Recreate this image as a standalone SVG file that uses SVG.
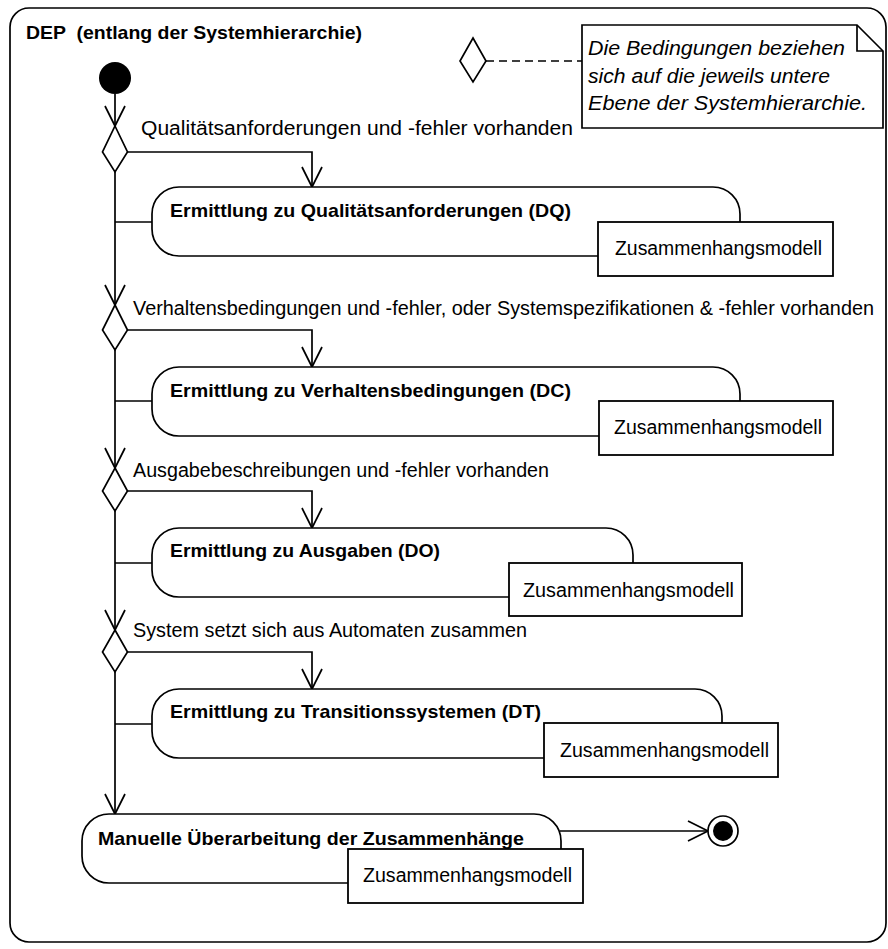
<svg xmlns="http://www.w3.org/2000/svg" width="888" height="949" viewBox="0 0 888 949">
  <style>
    .ln { fill: none; stroke: #000; stroke-width: 1.7; }
    .act { fill: #fff; stroke: #000; stroke-width: 1.7; }
    .pin { fill: #fff; stroke: #000; stroke-width: 1.8; }
    .dec { fill: #fff; stroke: #000; stroke-width: 1.7; }
    .t { font-family: "Liberation Sans", Arial, sans-serif; fill: #000; }
    .lbl { font-size: 19.5px; }
    .bold { font-size: 19px; font-weight: bold; }
    .pint { font-size: 19.5px; }
    .note { font-size: 19.5px; font-style: italic; }
  </style>
  <defs>
    <marker id="open" markerWidth="24" markerHeight="24" viewBox="-22 -12 24 24" refX="0" refY="0" orient="auto" markerUnits="userSpaceOnUse">
      <path d="M-20,-10 L0,0 L-20,10" fill="none" stroke="#000" stroke-width="1.7"/>
    </marker>
  </defs>

  <!-- activity frame -->
  <g id="frame">
    <rect x="10" y="8" width="876" height="934" rx="19" ry="19" fill="#fff" stroke="#000" stroke-width="1.7"/>
    <text class="t bold" x="26" y="39" textLength="336" lengthAdjust="spacingAndGlyphs" style="white-space:pre">DEP  (entlang der Systemhierarchie)</text>
  </g>

  <!-- control flows -->
  <g id="connectors">
    <line class="ln" x1="115" y1="94" x2="115" y2="126" marker-end="url(#open)"/>
    <polyline class="ln" points="127.5,152 312,152 312,187" marker-end="url(#open)"/>
    <line class="ln" x1="115" y1="172" x2="115" y2="305" marker-end="url(#open)"/>
    <line class="ln" x1="115" y1="222" x2="152" y2="222"/>
    <polyline class="ln" points="127.5,330 312,330 312,367" marker-end="url(#open)"/>
    <line class="ln" x1="115" y1="350" x2="115" y2="468" marker-end="url(#open)"/>
    <line class="ln" x1="115" y1="401" x2="152" y2="401"/>
    <polyline class="ln" points="127.5,491 312,491 312,528" marker-end="url(#open)"/>
    <line class="ln" x1="115" y1="511" x2="115" y2="630" marker-end="url(#open)"/>
    <line class="ln" x1="115" y1="563" x2="152" y2="563"/>
    <polyline class="ln" points="127.5,652 312,652 312,689" marker-end="url(#open)"/>
    <line class="ln" x1="115" y1="672" x2="115" y2="814" marker-end="url(#open)"/>
    <line class="ln" x1="115" y1="724" x2="152" y2="724"/>
    <line class="ln" x1="560" y1="831" x2="708" y2="831" marker-end="url(#open)"/>
    <line class="ln" x1="486" y1="61" x2="582" y2="61" stroke-dasharray="8,5"/>
  </g>

  <g id="initial">
    <circle cx="115" cy="78" r="16" fill="#000"/>
  </g>

  <!-- decisions with guard labels -->
  <g id="decision1">
    <polygon class="dec" points="115,126 127.5,152 115,172 102.5,152"/>
    <text class="t lbl" x="141" y="135" textLength="432" lengthAdjust="spacingAndGlyphs">Qualitätsanforderungen und -fehler vorhanden</text>
  </g>
  <g id="decision2">
    <polygon class="dec" points="115,305 127.5,330 115,350 102.5,330"/>
    <text class="t lbl" x="133" y="315" textLength="741" lengthAdjust="spacingAndGlyphs">Verhaltensbedingungen und -fehler, oder Systemspezifikationen &amp; -fehler vorhanden</text>
  </g>
  <g id="decision3">
    <polygon class="dec" points="115,468 127.5,491 115,511 102.5,491"/>
    <text class="t lbl" x="133" y="477" textLength="416" lengthAdjust="spacingAndGlyphs">Ausgabebeschreibungen und -fehler vorhanden</text>
  </g>
  <g id="decision4">
    <polygon class="dec" points="115,630 127.5,652 115,672 102.5,652"/>
    <text class="t lbl" x="133" y="637" textLength="394" lengthAdjust="spacingAndGlyphs">System setzt sich aus Automaten zusammen</text>
  </g>

  <!-- actions with output pins -->
  <g id="actionDQ">
    <rect class="act" x="152" y="187" width="588" height="69" rx="27" ry="27"/>
    <text class="t bold" x="170" y="217" textLength="401" lengthAdjust="spacingAndGlyphs">Ermittlung zu Qualitätsanforderungen (DQ)</text>
    <rect class="pin" x="598" y="222" width="235" height="54"/>
    <text class="t pint" x="615" y="255" textLength="207" lengthAdjust="spacingAndGlyphs">Zusammenhangsmodell</text>
  </g>
  <g id="actionDC">
    <rect class="act" x="152" y="367" width="588" height="69" rx="27" ry="27"/>
    <text class="t bold" x="170" y="397" textLength="401" lengthAdjust="spacingAndGlyphs">Ermittlung zu Verhaltensbedingungen (DC)</text>
    <rect class="pin" x="599" y="401" width="234" height="54"/>
    <text class="t pint" x="614" y="434" textLength="208" lengthAdjust="spacingAndGlyphs">Zusammenhangsmodell</text>
  </g>
  <g id="actionDO">
    <rect class="act" x="152" y="528" width="481" height="69" rx="27" ry="27"/>
    <text class="t bold" x="170" y="557" textLength="270" lengthAdjust="spacingAndGlyphs">Ermittlung zu Ausgaben (DO)</text>
    <rect class="pin" x="509" y="563" width="233" height="53"/>
    <text class="t pint" x="523" y="597" textLength="211" lengthAdjust="spacingAndGlyphs">Zusammenhangsmodell</text>
  </g>
  <g id="actionDT">
    <rect class="act" x="152" y="689" width="570" height="69" rx="27" ry="27"/>
    <text class="t bold" x="170" y="718" textLength="371" lengthAdjust="spacingAndGlyphs">Ermittlung zu Transitionssystemen (DT)</text>
    <rect class="pin" x="544" y="723" width="234" height="54"/>
    <text class="t pint" x="560" y="757" textLength="209" lengthAdjust="spacingAndGlyphs">Zusammenhangsmodell</text>
  </g>
  <g id="actionManual">
    <rect class="act" x="82" y="814" width="479" height="69" rx="27" ry="27"/>
    <text class="t bold" x="98" y="845" textLength="426" lengthAdjust="spacingAndGlyphs">Manuelle Überarbeitung der Zusammenhänge</text>
    <rect class="pin" x="348" y="849" width="235" height="54"/>
    <text class="t pint" x="363" y="882" textLength="209" lengthAdjust="spacingAndGlyphs">Zusammenhangsmodell</text>
  </g>

  <g id="final">
    <circle cx="723" cy="831" r="15" fill="#fff" stroke="#000" stroke-width="1.7"/>
    <circle cx="723" cy="831" r="10" fill="#000"/>
  </g>

  <!-- comment attached to the decision symbol -->
  <g id="note">
    <polygon class="dec" points="473,38 486,61 473,82 460,61"/>
    <path d="M582,25 L857,25 L883,51 L883,128 L582,128 Z" fill="#fff" stroke="#000" stroke-width="1.7"/>
    <path d="M857,25 L857,51 L883,51" fill="none" stroke="#000" stroke-width="1.7"/>
    <text class="t note" x="588" y="55" textLength="257" lengthAdjust="spacingAndGlyphs">Die Bedingungen beziehen</text>
    <text class="t note" x="588" y="83" textLength="242" lengthAdjust="spacingAndGlyphs">sich auf die jeweils untere</text>
    <text class="t note" x="588" y="110" textLength="279" lengthAdjust="spacingAndGlyphs">Ebene der Systemhierarchie.</text>
  </g>
</svg>
